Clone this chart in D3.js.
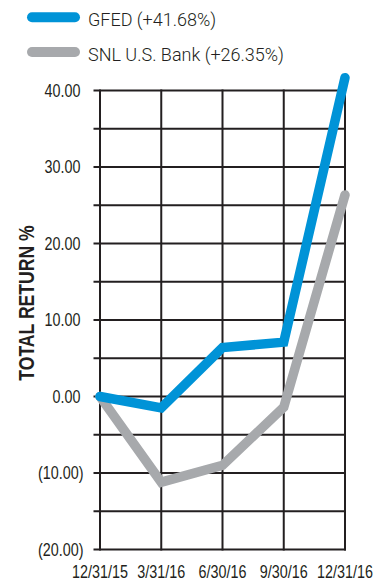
<!DOCTYPE html>
<html><head><meta charset="utf-8">
<script src="https://cdn.jsdelivr.net/npm/d3@7"></script>
<style>
body{margin:0;background:#fff;}
svg{display:block;}
</style></head>
<body>
<svg id="c" width="386" height="584"></svg>
<script>
const dates = ["12/31/15","3/31/16","6/30/16","9/30/16","12/31/16"];
const gfed = [0, -1.5, 6.4, 7.1, 41.68];
const snl = [0, -11.2, -9.0, -1.4, 26.35];
const yTicks = [-20,-10,0,10,20,30,40];
const yMinor = [-15,-5,5,15,25,35];
const seriesNames = ["GFED (+41.68%)", "SNL U.S. Bank (+26.35%)"];
const colors = ["#0093d7", "#a7a9ac"];

const svg = d3.select("#c");
const x = d3.scalePoint().domain(dates).range([100, 345]);
const y = d3.scaleLinear().domain([-20, 40]).range([549.5, 90.5]);
const ink = "#231f20";
const arial = "'Liberation Sans', Arial, sans-serif";
const SX = 0.82;

// horizontal grid (major + minor)
const g = svg.append("g");
g.selectAll("line.h").data(yTicks.concat(yMinor)).join("line")
  .attr("x1", 93.5).attr("x2", 346)
  .attr("y1", d => y(d)).attr("y2", d => y(d))
  .attr("stroke", ink).attr("stroke-width", 2);
// vertical grid
g.selectAll("line.v").data(dates).join("line")
  .attr("x1", d => x(d)).attr("x2", d => x(d))
  .attr("y1", y(40) - 1).attr("y2", y(-20) + 1)
  .attr("stroke", ink).attr("stroke-width", 2);

// y axis labels
const fmt = d => d < 0 ? "(" + d3.format(".2f")(-d) + ")" : d3.format(".2f")(d);
svg.selectAll("text.yl").data(yTicks).join("text")
  .attr("transform", d => `translate(${d < 0 ? 83.5 : 80.5},${y(d) + 6.2}) scale(${SX},1)`)
  .attr("text-anchor", "end")
  .attr("font-family", arial).attr("font-size", 17.5)
  .attr("fill", ink)
  .text(fmt);

// x axis labels
svg.selectAll("text.xl").data(dates).join("text")
  .attr("transform", d => `translate(${x(d)},578) scale(${SX},1)`)
  .attr("text-anchor", "middle")
  .attr("font-family", arial).attr("font-size", 17.5)
  .attr("fill", ink)
  .text(d => d);

// y title
svg.append("text")
  .attr("transform", `translate(33.5,303) rotate(-90) scale(0.8,1)`)
  .attr("text-anchor", "middle")
  .attr("font-family", arial).attr("font-weight", "bold").attr("font-size", 22)
  .attr("fill", ink)
  .text("TOTAL RETURN %");

// lines
const line = d3.line().x((d, i) => x(dates[i])).y(d => y(d));
[snl, gfed].forEach((s, k) => {
  svg.append("path").datum(s)
    .attr("d", line)
    .attr("fill", "none")
    .attr("stroke", k === 0 ? colors[1] : colors[0])
    .attr("stroke-width", 9.5)
    .attr("stroke-linecap", "round")
    .attr("stroke-linejoin", "miter");
});

// legend
const lg = svg.append("g");
seriesNames.forEach((n, i) => {
  const cy = 17.3 + i * 34.7;
  lg.append("line").attr("x1", 32).attr("x2", 75).attr("y1", cy).attr("y2", cy)
    .attr("stroke", colors[i]).attr("stroke-width", 10).attr("stroke-linecap", "round");
  lg.append("text").attr("x", 88).attr("y", cy + 8.5)
    .attr("font-family", "Roboto, sans-serif").attr("font-weight", 300).attr("font-size", 18)
    .attr("fill", ink).text(n);
});
</script>
</body></html>
